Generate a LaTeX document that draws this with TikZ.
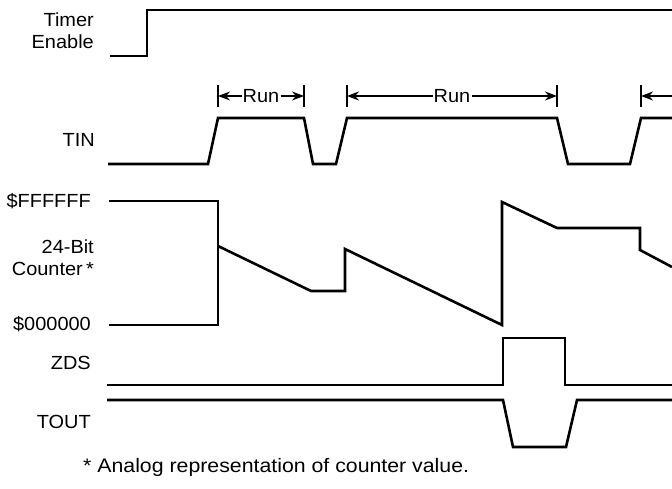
\documentclass[tikz,border=0pt]{standalone}
\usepackage{fontspec}
\setmainfont{Liberation Sans}[FakeStretch=1.05]
\usetikzlibrary{arrows.meta}
\begin{document}
\begin{tikzpicture}[x=1pt,y=-1pt,
  sig/.style={line width=2.6pt},
  lbl/.style={anchor=east,inner sep=0pt,font=\fontsize{19}{22}\selectfont,align=right},
  bar/.style={line width=1.4pt},
  runarrow/.style={line width=1.4pt,-{Stealth[length=12pt,width=9pt]}},
  runlbl/.style={inner sep=1pt,font=\fontsize{19}{22}\selectfont}]
\useasboundingbox (0,0) rectangle (672,489);
% labels
\node[lbl] (timer) at (94,31) {Timer\\Enable};
\node[lbl] (tin) at (95,140) {TIN};
\node[lbl] (ffff) at (91,201) {\$FFFFFF};
\node[lbl] (cnt) at (94,258) {24-Bit\\Counter\,*};
\node[lbl] (zero) at (91,324) {\$000000};
\node[lbl] (zds) at (91,363) {ZDS};
\node[lbl] (tout) at (91,422) {TOUT};
\node[anchor=west,inner sep=0pt,font=\fontsize{19.5}{22}\selectfont] (note) at (83,467) {\scalebox{1.04}[1]{* Analog representation of counter value.}};
% Timer enable
\draw[sig] (110,56) -- (147,56) -- (147,10) -- (672,10);
% TIN
\draw[sig] (108,164) -- (208,164) -- (218,118) -- (304,118) -- (313,164) -- (336,164)
  -- (347,118) -- (557,118) -- (568,164) -- (630,164) -- (641,118) -- (672,118);
% Run markers
\coordinate (b1) at (218,96); \coordinate (b2) at (304,96);
\coordinate (b3) at (347,96); \coordinate (b4) at (557,96);
\coordinate (b5) at (641,96); \coordinate (bend) at (672,96);
\foreach \b in {b1,b2,b3,b4,b5} \draw[bar] ([yshift=-11pt]\b) -- ([yshift=11pt]\b);
\node[runlbl] (run1) at (261,96) {Run};
\node[runlbl] (run2) at (452,96) {Run};
\draw[runarrow] (run1.west) -- (b1);
\draw[runarrow] (run1.east) -- (b2);
\draw[runarrow] (run2.west) -- (b3);
\draw[runarrow] (run2.east) -- (b4);
\draw[runarrow] (bend) -- (b5);
% Counter
\draw[sig] (109,201) -- (218,201) -- (218,325) -- (109,325);
\draw[sig] (218,246) -- (311,291) -- (345,291) -- (345,249) -- (502,325) -- (502,202)
  -- (557,228) -- (640,228) -- (640,250) -- (672,267);
% ZDS
\draw[sig] (107,385) -- (503,385) -- (503,338) -- (565,338) -- (565,385) -- (672,385);
% TOUT
\draw[sig] (107,400) -- (503,400) -- (513,447) -- (566,447) -- (577,400) -- (672,400);
\end{tikzpicture}
\end{document}
